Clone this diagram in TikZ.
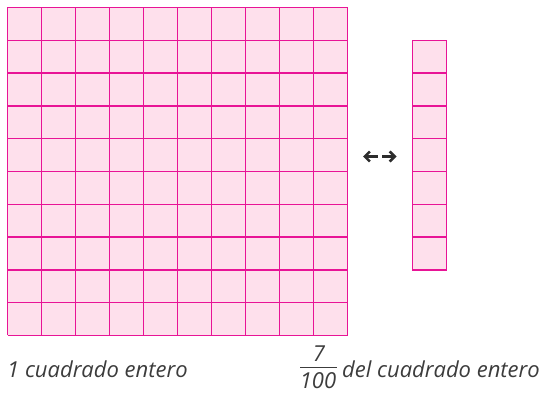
\documentclass[tikz,border=0pt]{standalone}
\usepackage{fontspec}
\setmainfont{Open Sans}
\usetikzlibrary{arrows.meta,positioning}
\definecolor{cuadroRosa} {RGB}{254, 224, 236}
\definecolor{lineaRosa}  {RGB}{232,  20, 150}
\definecolor{textoGris}  {RGB}{ 60,  60,  60}
\definecolor{flechaGris} {RGB}{ 45,  45,  45}

\begin{document}
\begin{tikzpicture}[x=1pt,y=-1pt,
    rejilla/.style={draw=lineaRosa,line width=1.4pt},
    etiqueta/.style={font=\fontsize{22}{26}\selectfont\itshape,textoGris,inner sep=0pt},
    flecha/.style={-{Straight Barb[length=5pt,width=10pt]},flechaGris,line width=2.6pt}]

    \useasboundingbox (0,0) rectangle (544,395);

    % Cuadrado entero: 10 x 10
    \fill[cuadroRosa] (7.5,7.5) rectangle (347.5,335.5);
    \foreach \i in {0,...,10}{
      \draw[rejilla] (7.5+34*\i,7.5) -- (7.5+34*\i,335.5);
      \draw[rejilla] (7.5,7.5+32.8*\i) -- (347.5,7.5+32.8*\i);
    }

    % Columna: 7 de 100
    \fill[cuadroRosa] (412.5,40.3) rectangle (446.5,269.9);
    \draw[rejilla] (412.5,40.3) rectangle (446.5,269.9);
    \foreach \j in {2,...,7}{
      \draw[rejilla] (412.5,7.5+32.8*\j) -- (446.5,7.5+32.8*\j);
    }

    % flecha doble
    \coordinate (fizq) at (363,156.5);
    \coordinate (fmed1) at (377.5,156.5);
    \coordinate (fmed2) at (382,156.5);
    \coordinate (fder) at (396.5,156.5);
    \draw[flecha] (fmed1) -- (fizq);
    \draw[flecha] (fmed2) -- (fder);

    % textos
    \node[etiqueta,anchor=base west] (entero) at (7,378) {1 cuadrado entero};
    \node[etiqueta,anchor=base west] (parte) at (342,378) {del cuadrado entero};

    % fraccion 7/100
    \node[etiqueta,anchor=base] (num) at (319,362) {7};
    \node[etiqueta,anchor=base] (den) at (318,389) {100};
    \coordinate (barizq) at (300,368);
    \coordinate (barder) at (337,368);
    \draw[textoGris,line width=1pt] (barizq) -- (barder);

\end{tikzpicture}
\end{document}
